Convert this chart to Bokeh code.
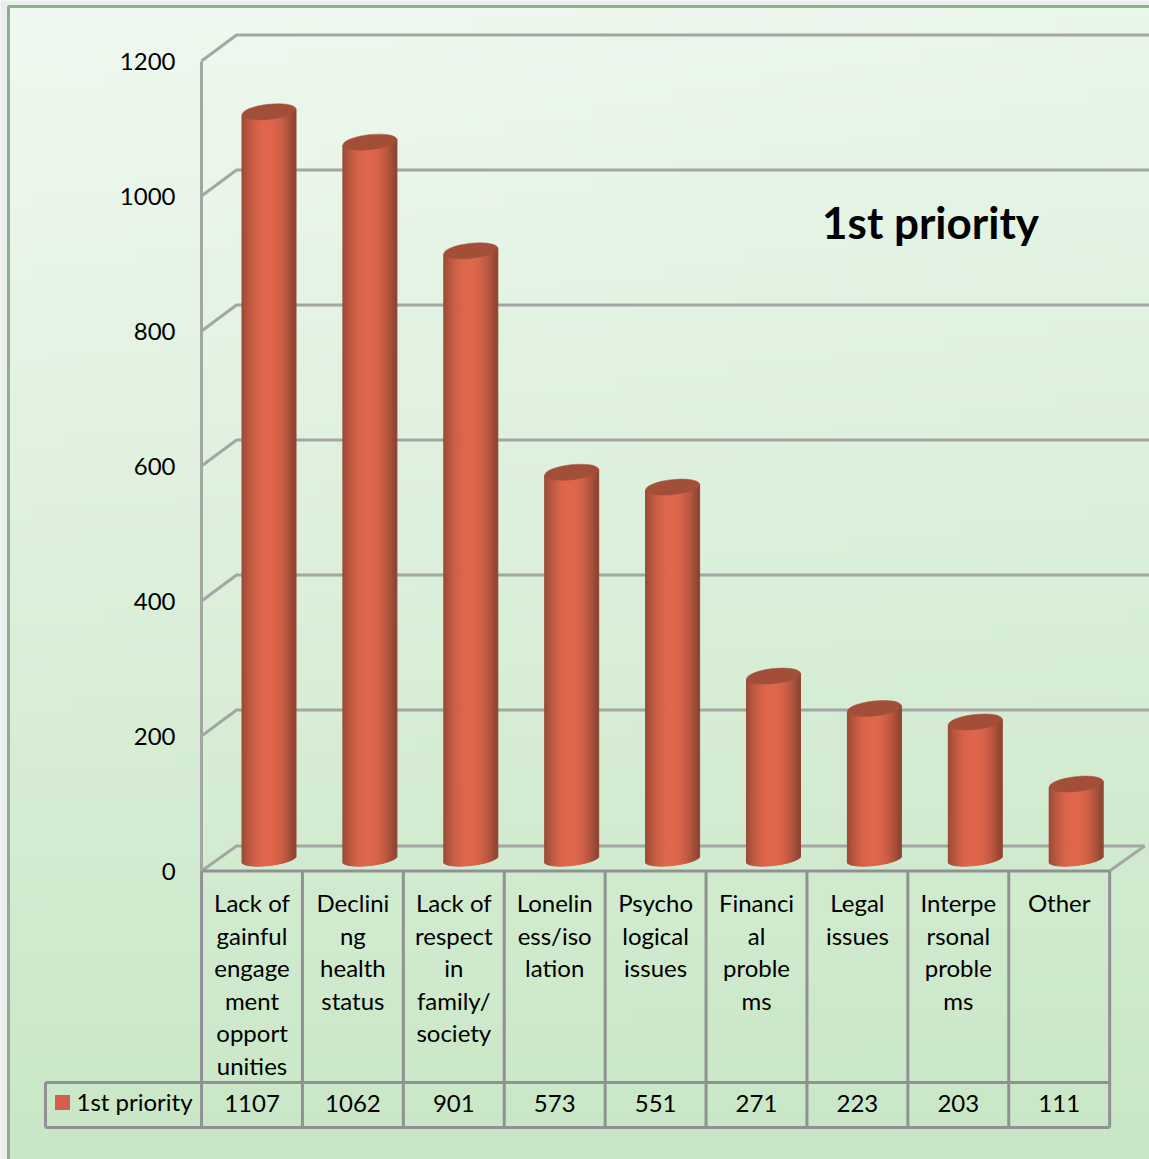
import numpy as np
from bokeh.embed import file_html
from bokeh.resources import INLINE
from bokeh.plotting import figure
from bokeh.models import Range1d, LinearAxis, FixedTicker
from bokeh.core.properties import value

# --- data ---
category_lines = [
    ["Lack of", "gainful", "engage", "ment", "opport", "unities"],
    ["Declini", "ng", "health", "status"],
    ["Lack of", "respect", "in", "family/", "society"],
    ["Lonelin", "ess/iso", "lation"],
    ["Psycho", "logical", "issues"],
    ["Financi", "al", "proble", "ms"],
    ["Legal", "issues"],
    ["Interpe", "rsonal", "proble", "ms"],
    ["Other"],
]
series_name = "1st priority"
series_values = [1107, 1062, 901, 573, 551, 271, 223, 203, 111]
y_ticks = [0, 200, 400, 600, 800, 1000, 1200]

# --- layout ---
W, H = 1149, 1159
PX_CAT = 100.9   # pixels per category
PX_VAL = 0.675   # pixels per value unit
X0_REF, Y0_REF = 251.5, 870.5
def cx(px): return (px - X0_REF) / PX_CAT      # page pixel -> category scale
def cy(py): return (Y0_REF - py) / PX_VAL      # page pixel -> value scale
DEPTH_X = 35 / PX_CAT
DEPTH_Y = 25 / PX_VAL
FONT = value("Lato")
INK = "#000000"
GRID = "#a3a6a3"
TABLE = "#8f9192"

p = figure(width=W, height=H, output_backend="svg", toolbar_location=None,
           x_range=Range1d(cx(0), cx(W)), y_range=Range1d(cy(H), cy(0)),
           min_border=0, min_border_left=0, min_border_right=0, min_border_top=0, min_border_bottom=0,
           x_axis_type=None, y_axis_type=None)
p.grid.visible = False
p.outline_line_color = None
p.background_fill_color = "#e9efec"

# background gradient
ny, nx = 80, 80
img = np.zeros((ny, nx), dtype=np.uint32)
view = img.view(dtype=np.uint8).reshape((ny, nx, 4))
top_left = np.array([240, 249, 240]); top_right = np.array([233, 246, 234])
bottom = np.array([201, 231, 198])
for j in range(ny):
    f = j / (ny - 1)                # 0 at bottom row of the image
    for i in range(nx):
        g = i / (nx - 1)
        c = (1 - f) * bottom + f * ((1 - g) * top_left + g * top_right)
        view[j, i, :3] = c
        view[j, i, 3] = 255
p.image_rgba(image=[img], x=cx(8), y=cy(H), dw=cx(W) - cx(8), dh=cy(6) - cy(H))
p.line([cx(8), cx(8), cx(W)], [cy(H), cy(6), cy(6)], line_color="#8fae8c", line_width=3)

# back wall / floor lines
xe = cx(W)
xs_, ys_ = [], []
for t in y_ticks:
    if t == 0:
        xs_.append([-0.5, -0.5 + DEPTH_X, 8.5 + DEPTH_X])
        ys_.append([0, DEPTH_Y, DEPTH_Y])
    else:
        xs_.append([-0.5, -0.5 + DEPTH_X, xe])
        ys_.append([t, t + DEPTH_Y + 1 / PX_VAL, t + DEPTH_Y + 1 / PX_VAL])
p.multi_line(xs_, ys_, line_color=GRID, line_width=3)
p.line([8.5, 8.5 + DEPTH_X], [0, DEPTH_Y], line_color=GRID, line_width=3)

# cylinders
BAR_W = 54
STRIPS = 54
edge = np.array([0x90, 0x46, 0x33]); mid = np.array([0xE0, 0x68, 0x4D])
L, R, T, B, C = [], [], [], [], []
SEMI = 6.5; TILT = 3.0
bar_dx = 17 / PX_CAT
bar_dy = 12 / PX_VAL
for i, v in enumerate(series_values):
    xc = i + bar_dx
    for s in range(STRIPS):
        u0 = -1 + 2 * s / STRIPS
        u1 = -1 + 2 * (s + 1) / STRIPS
        u = (u0 + u1) / 2
        t = np.clip(1 - (abs(u + 0.05) / 1.0) ** 2.0, 0, 1)
        col = edge + (mid - edge) * t
        L.append(xc + u0 * BAR_W / 2 / PX_CAT)
        R.append(xc + u1 * BAR_W / 2 / PX_CAT)
        T.append(v + bar_dy + TILT * u / PX_VAL)
        B.append(bar_dy + (TILT * u - SEMI * np.sqrt(max(0, 1 - u * u))) / PX_VAL)
        C.append("#%02x%02x%02x" % tuple(int(c) for c in col))
p.quad(left=L, right=R, top=T, bottom=B, fill_color=C, line_color=C, line_width=1)
p.ellipse(x=[i + bar_dx for i in range(len(series_values))],
          y=[v + bar_dy for v in series_values],
          width=BAR_W, height=15, width_units="screen", height_units="screen",
          angle=0.11, fill_color="#a34e38", line_color="#a34e38", line_width=0.5)

# value axis, placed inside the frame
ax = LinearAxis(fixed_location=-0.5, ticker=FixedTicker(ticks=y_ticks), bounds=(0, 1200))
ax.axis_line_color = GRID
ax.axis_line_width = 3
ax.major_tick_line_color = None
ax.minor_tick_line_color = None
ax.major_tick_out = 0
ax.major_label_standoff = 26
ax.major_label_text_font = "Lato"
ax.major_label_text_font_size = "24px"
ax.major_label_text_color = INK
p.add_layout(ax, "left")

# data table grid
n = len(series_values)
row1, row2 = cy(1082), cy(1127)
left_edge = cx(45)
tx, ty = [], []
for k in range(n + 1):
    tx.append([k - 0.5, k - 0.5]); ty.append([0, row2])
tx.append([-0.5, 8.5]); ty.append([0, 0])
tx.append([left_edge, 8.5]); ty.append([row1, row1])
tx.append([left_edge, 8.5]); ty.append([row2, row2])
tx.append([left_edge, left_edge]); ty.append([row1, row2])
p.multi_line(tx, ty, line_color=TABLE, line_width=3)

# category text, one glyph per wrapped line
lx, ly, lt = [], [], []
for i, lines in enumerate(category_lines):
    for j, s in enumerate(lines):
        lx.append(i); ly.append(cy(902 + 32.6 * j)); lt.append(s)
p.text(lx, ly, text=lt, text_font=FONT, text_font_size="24px", text_color=INK,
       text_align="center", text_baseline="middle")

# value row
p.text(list(range(n)), [cy(1103)] * n, text=[str(v) for v in series_values], text_font=FONT,
       text_font_size="24px", text_color=INK, text_align="center", text_baseline="middle")

# legend key + name
p.scatter([cx(62)], [cy(1102)], marker="square", size=15, fill_color="#d2604a", line_color=None)
p.text([cx(76)], [cy(1101)], text=[series_name], text_font=FONT, text_font_size="24px",
       text_color=INK, text_align="left", text_baseline="middle")

# chart title
p.text([cx(930)], [cy(221)], text=[series_name], text_font=FONT, text_font_size="44px",
       text_font_style="bold", text_color="#000000", text_align="center", text_baseline="middle")

open("out.html", "w").write(file_html(p, INLINE))
